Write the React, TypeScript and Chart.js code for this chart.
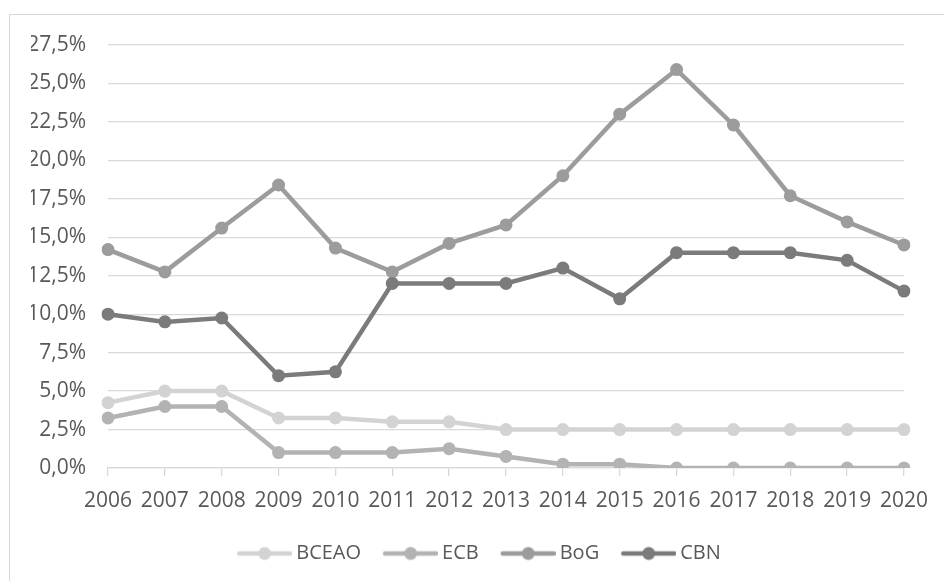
import React, { useEffect, useRef } from 'react';
import { Chart, registerables } from 'chart.js';

Chart.register(...registerables);

const years = ['2006', '2007', '2008', '2009', '2010', '2011', '2012', '2013', '2014', '2015', '2016', '2017', '2018', '2019', '2020'];
const bceao = [4.25, 5, 5, 3.25, 3.25, 3, 3, 2.5, 2.5, 2.5, 2.5, 2.5, 2.5, 2.5, 2.5];
const ecb = [3.25, 4, 4, 1, 1, 1, 1.25, 0.75, 0.25, 0.25, 0, 0, 0, 0, 0];
const bog = [14.2, 12.75, 15.6, 18.4, 14.3, 12.75, 14.6, 15.8, 19, 23, 25.9, 22.3, 17.7, 16.0, 14.5];
const cbn = [10, 9.5, 9.75, 6, 6.25, 12, 12, 12, 13, 11, 14, 14, 14, 13.5, 11.5];
const seriesNames = ['BCEAO', 'ECB', 'BoG', 'CBN'];
const seriesColors = ['#d3d3d3', '#b3b3b3', '#9c9c9c', '#7b7b7b'];
const yMin = 0;
const yMax = 27.5;
const yStep = 2.5;

const FONT = '"Open Sans", sans-serif';
const TEXT = '#595959';
const GRID = '#d9d9d9';

function makeLegendIcon(color: string): HTMLCanvasElement {
  const c = document.createElement('canvas');
  c.width = 73;
  c.height = 16;
  const ctx = c.getContext('2d')!;
  ctx.strokeStyle = color;
  ctx.lineWidth = 4.5;
  ctx.lineCap = 'round';
  ctx.beginPath();
  ctx.moveTo(20, 8);
  ctx.lineTo(71, 8);
  ctx.stroke();
  ctx.fillStyle = color;
  ctx.beginPath();
  ctx.arc(45.5, 8, 6.5, 0, Math.PI * 2);
  ctx.fill();
  return c;
}

const legendShift = {
  id: 'legendShift',
  afterLayout(chart: any) {
    if (chart.legend) {
      chart.legend.left += 5.5;
      chart.legend.right += 5.5;
    }
  },
};

export default function App() {
  const ref = useRef<HTMLCanvasElement>(null);
  useEffect(() => {
    if (!ref.current) return;
    const seriesData = [bceao, ecb, bog, cbn];
    const chart = new Chart(ref.current, {
      type: 'line',
      data: {
        labels: years,
        datasets: seriesNames.map((name, i) => ({
          label: name,
          data: seriesData[i],
          borderColor: seriesColors[i],
          backgroundColor: seriesColors[i],
          pointBackgroundColor: seriesColors[i],
          pointBorderWidth: 0,
          pointRadius: 6.5,
          pointHoverRadius: 6.5,
          borderWidth: 4.5,
          tension: 0,
          order: 4 - i,
          pointStyle: 'circle',
        })),
      },
      plugins: [legendShift],
      options: {
        animation: false,
        responsive: false,
        maintainAspectRatio: false,
        events: [],
        layout: { padding: { left: 31, right: 40, top: 45, bottom: 7.5 } },
        plugins: {
          tooltip: { enabled: false },
          legend: {
            position: 'bottom',
            align: 'center',
            labels: {
              sort: (a: any, b: any) => a.datasetIndex - b.datasetIndex,
              usePointStyle: true,
              pointStyleWidth: 61,
              padding: 10,
              color: TEXT,
              font: { family: FONT, size: 20 },
              generateLabels: (ch: any) =>
                ch.data.datasets.map((ds: any, i: number) => ({
                  text: ds.label,
                  fillStyle: seriesColors[i],
                  strokeStyle: seriesColors[i],
                  lineWidth: 0,
                  pointStyle: makeLegendIcon(seriesColors[i]),
                  datasetIndex: i,
                  hidden: false,
                  fontColor: TEXT,
                })),
            },
          },
        },
        scales: {
          x: {
            type: 'category',
            offset: false,
            grid: {
              drawOnChartArea: false,
              drawTicks: true,
              tickLength: 8,
              color: GRID,
              lineWidth: 1.3,
            },
            border: { display: true, color: GRID, width: 1.3 },
            ticks: {
              padding: 12,
              color: TEXT,
              font: { family: FONT, size: 21 },
              maxRotation: 0,
              autoSkip: false,
            },
            afterFit: (scale: any) => {
              scale.height = 65.5;
            },
          },
          y: {
            min: yMin,
            max: yMax,
            grid: { drawTicks: false, color: GRID, lineWidth: 1.3 },
            border: { display: false },
            ticks: {
              stepSize: yStep,
              padding: 22,
              color: TEXT,
              font: { family: FONT, size: 21 },
              callback: (v: any) => Number(v).toFixed(1).replace('.', ',') + '%',
            },
            afterFit: (scale: any) => {
              scale.width = 77;
            },
          },
        },
      },
    });
    return () => chart.destroy();
  }, []);
  return (
    <div style={{ position: 'fixed', left: 0, top: 0, width: 944, height: 581, background: '#fff', overflow: 'hidden' }}>
      <div
        style={{
          position: 'absolute',
          left: 9,
          top: 14,
          width: 940,
          height: 580,
          borderTop: '1px solid #d9d9d9',
          borderLeft: '1px solid #d9d9d9',
        }}
      />
      <canvas ref={ref} width={944} height={581} style={{ position: 'absolute', left: 0, top: 0, width: 944, height: 581 }} />
    </div>
  );
}
